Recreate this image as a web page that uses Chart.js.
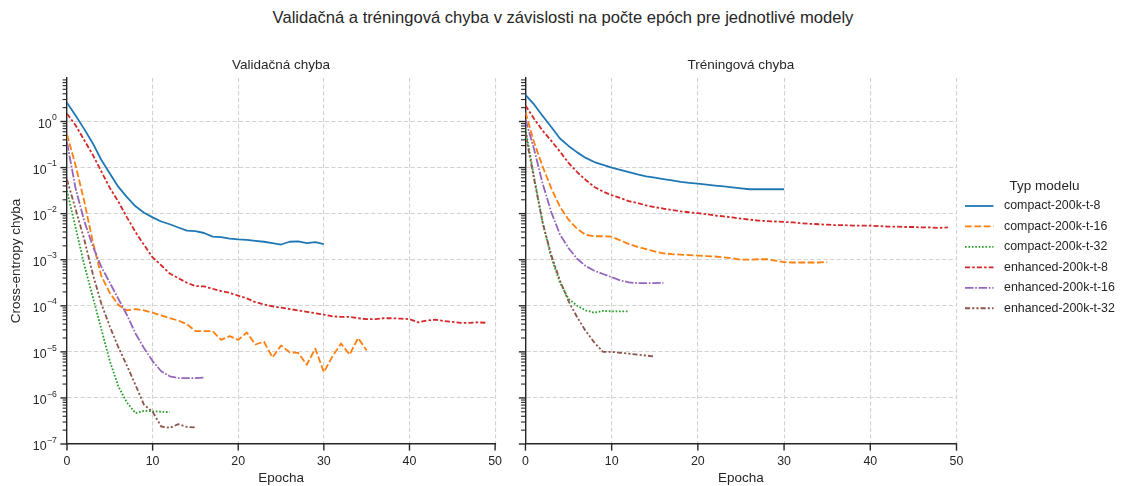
<!DOCTYPE html>
<html><head><meta charset="utf-8">
<script src="https://cdn.jsdelivr.net/npm/chart.js@4"></script>
<style>
html,body{margin:0;padding:0;background:#fff;}
#wrap{position:relative;width:1126px;height:486px;overflow:hidden;background:#fff;}
#suptitle{position:absolute;left:0;top:10px;width:1126px;text-align:center;font-family:"Liberation Sans",Arial,sans-serif;font-size:16.6px;line-height:16.6px;color:#262626;white-space:nowrap;}
#c1{position:absolute;left:0;top:0;}
#c2{position:absolute;left:512px;top:0;}
</style></head>
<body>
<div id="wrap">
<div id="suptitle">Validačná a tréningová chyba v závislosti na počte epóch pre jednotlivé modely</div>
<canvas id="c1" width="512" height="486"></canvas>
<canvas id="c2" width="614" height="486"></canvas>
</div>
<script>
// ---- data (stored as log10 of the cross-entropy; index = epoch) ----
const seriesNames = ['compact-200k-t-8','compact-200k-t-16','compact-200k-t-32','enhanced-200k-t-8','enhanced-200k-t-16','enhanced-200k-t-32'];
const legendTitle = 'Typ modelu';
const panelTitles = ['Validačná chyba', 'Tréningová chyba'];
const xAxisTitle = 'Epocha';
const yAxisTitle = 'Cross-entropy chyba';
const xTickValues = [0, 10, 20, 30, 40, 50];
const yTickExponents = [-7, -6, -5, -4, -3, -2, -1, 0];

// validation loss (log10)
const valCompact8 = [0.41,0.13,-0.16,-0.47,-0.83,-1.13,-1.42,-1.64,-1.84,-1.98,-2.08,-2.17,-2.23,-2.30,-2.37,-2.38,-2.42,-2.50,-2.51,-2.54,-2.56,-2.57,-2.59,-2.61,-2.64,-2.67,-2.61,-2.60,-2.64,-2.62,-2.66];
const valCompact16 = [-0.28,-0.95,-1.72,-2.6,-3.35,-3.72,-3.98,-4.10,-4.07,-4.10,-4.15,-4.21,-4.27,-4.32,-4.40,-4.55,-4.55,-4.55,-4.74,-4.66,-4.74,-4.58,-4.84,-4.78,-5.12,-4.86,-5.01,-5.02,-5.28,-4.93,-5.44,-5.10,-4.82,-5.06,-4.70,-4.97];
const valCompact32 = [-1.5,-2.3,-3.1,-3.8,-4.5,-5.2,-5.75,-6.1,-6.33,-6.28,-6.29,-6.30,-6.31];
const valEnhanced8 = [0.17,-0.08,-0.40,-0.72,-1.08,-1.44,-1.74,-2.08,-2.40,-2.68,-2.95,-3.12,-3.30,-3.40,-3.50,-3.57,-3.58,-3.63,-3.68,-3.72,-3.78,-3.84,-3.92,-3.97,-4.01,-4.04,-4.07,-4.10,-4.13,-4.16,-4.19,-4.23,-4.24,-4.24,-4.27,-4.29,-4.29,-4.27,-4.27,-4.28,-4.29,-4.36,-4.32,-4.30,-4.33,-4.35,-4.37,-4.37,-4.36,-4.37];
const valEnhanced16 = [-0.45,-1.45,-2.15,-2.7,-3.15,-3.5,-3.85,-4.2,-4.6,-4.92,-5.2,-5.42,-5.53,-5.57,-5.57,-5.57,-5.56];
const valEnhanced32 = [-1.26,-1.9,-2.55,-3.3,-3.95,-4.45,-4.9,-5.3,-5.72,-6.15,-6.3,-6.62,-6.65,-6.57,-6.63,-6.64];

// training loss (log10)
const trnCompact8 = [0.58,0.37,0.12,-0.12,-0.37,-0.53,-0.67,-0.79,-0.88,-0.94,-1.00,-1.05,-1.10,-1.15,-1.19,-1.22,-1.25,-1.28,-1.31,-1.33,-1.35,-1.37,-1.39,-1.41,-1.43,-1.45,-1.47,-1.47,-1.47,-1.47,-1.47];
const trnCompact16 = [0.2,-0.45,-0.98,-1.45,-1.85,-2.13,-2.33,-2.46,-2.49,-2.49,-2.50,-2.58,-2.66,-2.72,-2.77,-2.82,-2.86,-2.88,-2.89,-2.90,-2.91,-2.92,-2.93,-2.95,-2.97,-3.00,-3.00,-2.99,-2.99,-3.02,-3.05,-3.06,-3.06,-3.06,-3.06,-3.05];
const trnCompact32 = [-0.15,-1.2,-2.2,-2.95,-3.5,-3.85,-4.0,-4.1,-4.15,-4.11,-4.12,-4.12,-4.12];
const trnEnhanced8 = [0.35,0.06,-0.2,-0.42,-0.65,-0.9,-1.1,-1.27,-1.42,-1.52,-1.60,-1.66,-1.73,-1.77,-1.82,-1.86,-1.89,-1.92,-1.95,-1.97,-1.99,-2.01,-2.04,-2.06,-2.08,-2.11,-2.13,-2.15,-2.16,-2.17,-2.18,-2.19,-2.21,-2.22,-2.23,-2.24,-2.25,-2.25,-2.26,-2.26,-2.26,-2.27,-2.28,-2.28,-2.29,-2.29,-2.30,-2.30,-2.31,-2.30];
const trnEnhanced16 = [0.05,-0.6,-1.35,-1.97,-2.45,-2.75,-2.98,-3.14,-3.24,-3.31,-3.38,-3.45,-3.49,-3.51,-3.51,-3.51,-3.50];
const trnEnhanced32 = [-0.25,-1.25,-2.2,-2.9,-3.45,-3.9,-4.25,-4.55,-4.8,-5.0,-5.0,-5.02,-5.04,-5.06,-5.08,-5.1];

// ---- styles ----
const FONT = '"Liberation Sans", Arial, sans-serif';
const TEXT = '#262626';
const colors = ['#1f77b4','#ff7f0e','#2ca02c','#d62728','#9467bd','#8c564b'];
const LW = 1.8;
const dashes = [[], [6.8,2.55], [1.7,1.7], [5.1,2.1,2.55,2.1], [8.5,1.7,1.7,1.7], [5.1,2.1,2.1,2.1,2.1,2.1]];
const Y_MAX = 8.8, Y_MIN = 1e-7;
const MAJOR_LEN = 6.6, MINOR_LEN = 4.4;
const TICK_FONT = 12.4, LABEL_FONT = 13.5;

function expText(e){ return String(e).replace('-', '\u2212'); }

function makeDatasets(arrays){
  return arrays.map((arr, i) => ({
    label: seriesNames[i],
    data: arr.map((lv, ep) => ({x: ep, y: Math.pow(10, lv)})),
    borderColor: colors[i],
    backgroundColor: colors[i],
    borderWidth: LW,
    borderDash: dashes[i],
    borderCapStyle: 'butt',
    borderJoinStyle: 'round',
    pointRadius: 0,
    fill: false,
    tension: 0,
    order: arrays.length - 1 - i
  }));
}

const axisDecor = {
  id: 'axisDecor',
  afterDraw(chart, args, opts){
    const ctx = chart.ctx, ya = chart.scales.y, xa = chart.scales.x, ca = chart.chartArea;
    ctx.save();
    ctx.strokeStyle = TEXT;
    ctx.setLineDash([]);
    // y ticks (major + minor) and labels
    for (const e of yTickExponents){
      const base = Math.pow(10, e);
      let py = ya.getPixelForValue(base);
      ctx.lineWidth = 1.4;
      ctx.beginPath(); ctx.moveTo(ca.left - MAJOR_LEN, py); ctx.lineTo(ca.left, py); ctx.stroke();
      if (opts.yLabels){
        const ex = expText(e);
        ctx.fillStyle = TEXT;
        ctx.textAlign = 'left';
        ctx.textBaseline = 'alphabetic';
        ctx.font = (TICK_FONT * 0.7).toFixed(2) + 'px ' + FONT;
        const w2 = ctx.measureText(ex).width;
        ctx.font = TICK_FONT + 'px ' + FONT;
        const w1 = ctx.measureText('10').width;
        const right = ca.left - 10.2;
        ctx.fillText('10', right - w2 - w1 - 0.3, py + 6);
        ctx.font = (TICK_FONT * 0.7).toFixed(2) + 'px ' + FONT;
        ctx.fillText(ex, right - w2, py - 1.3);
      }
      for (let m = 2; m <= 9; m++){
        const v = m * base;
        if (v > ya.max) break;
        py = ya.getPixelForValue(v);
        ctx.lineWidth = 1.1;
        ctx.beginPath(); ctx.moveTo(ca.left - MINOR_LEN, py); ctx.lineTo(ca.left, py); ctx.stroke();
      }
    }
    // x ticks
    ctx.lineWidth = 1.4;
    for (const v of xTickValues){
      const px = xa.getPixelForValue(v);
      ctx.beginPath(); ctx.moveTo(px, ca.bottom); ctx.lineTo(px, ca.bottom + MAJOR_LEN); ctx.stroke();
    }
    // panel title
    ctx.fillStyle = TEXT;
    ctx.font = LABEL_FONT + 'px ' + FONT;
    ctx.textAlign = 'center';
    ctx.textBaseline = 'alphabetic';
    ctx.fillText(opts.title, (ca.left + ca.right) / 2, ca.top - 9.5);
    // legend
    if (opts.legend){
      const lx = ca.right + 8.5;
      ctx.font = LABEL_FONT + 'px ' + FONT;
      ctx.textBaseline = 'middle';
      ctx.fillText(legendTitle, lx + 79.5, 186);
      chart.data.datasets.forEach((ds, i) => {
        const y = 206 + i * 20.45;
        ctx.strokeStyle = ds.borderColor;
        ctx.lineWidth = LW;
        ctx.lineCap = 'butt';
        ctx.setLineDash(ds.borderDash);
        ctx.beginPath(); ctx.moveTo(lx, y); ctx.lineTo(lx + 28.5, y); ctx.stroke();
        ctx.setLineDash([]);
        ctx.fillStyle = TEXT;
        ctx.font = TICK_FONT + 'px ' + FONT;
        ctx.textAlign = 'left';
        ctx.fillText(ds.label, lx + 39, y);
      });
    }
    ctx.restore();
  }
};

function makeConfig(arrays, isLeft){
  return {
    type: 'line',
    data: {datasets: makeDatasets(arrays)},
    plugins: [axisDecor],
    options: {
      responsive: false,
      animation: false,
      events: [],
      layout: {padding: {left: 0, right: isLeft ? 9 : 169.5, top: 78, bottom: 0}},
      plugins: {
        legend: {display: false},
        tooltip: {enabled: false},
        title: {display: false},
        axisDecor: {title: isLeft ? panelTitles[0] : panelTitles[1], legend: !isLeft, yLabels: isLeft}
      },
      scales: {
        x: {
          type: 'linear', min: 0, max: 50,
          afterFit: s => { s.height = 42; },
          afterBuildTicks: s => { s.ticks = xTickValues.map(v => ({value: v})); },
          ticks: {padding: 10, color: TEXT, font: {family: FONT, size: TICK_FONT}, maxRotation: 0, autoSkip: false},
          grid: {drawTicks: false, color: '#d2d2d2', lineWidth: 1.1},
          border: {display: true, color: TEXT, width: 1.4, dash: [4.2, 2.4]},
          title: {display: true, text: xAxisTitle, color: TEXT, font: {family: FONT, size: LABEL_FONT}, padding: {top: 0, bottom: 0}}
        },
        y: {
          type: 'logarithmic', min: Y_MIN, max: Y_MAX,
          afterFit: s => { s.width = isLeft ? 67 : 9; },
          afterBuildTicks: s => { s.ticks = yTickExponents.map(e => ({value: Math.pow(10, e), major: true})); },
          ticks: {display: false},
          grid: {drawTicks: false, color: '#d2d2d2', lineWidth: 1.1},
          border: {display: true, color: TEXT, width: 1.4, dash: [4.2, 2.4]},
          title: {display: isLeft, text: yAxisTitle, color: TEXT, font: {family: FONT, size: LABEL_FONT}, padding: {top: 8.5, bottom: 0}}
        }
      }
    }
  };
}

new Chart(document.getElementById('c1'), makeConfig([valCompact8, valCompact16, valCompact32, valEnhanced8, valEnhanced16, valEnhanced32], true));
new Chart(document.getElementById('c2'), makeConfig([trnCompact8, trnCompact16, trnCompact32, trnEnhanced8, trnEnhanced16, trnEnhanced32], false));
</script>
</body></html>
